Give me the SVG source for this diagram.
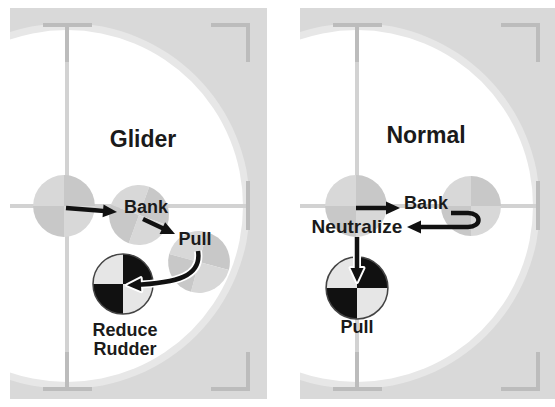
<svg xmlns="http://www.w3.org/2000/svg" width="555" height="407" viewBox="0 0 555 407">
<style>
.panel{fill:#d9d9d9}
.ring{fill:#e7e7e7}
.face{fill:#ffffff}
.ch{stroke:#d2d2d2;stroke-width:4;fill:none}
.tick{stroke:#bcbcbc;stroke-width:4;fill:none}
.title{font-family:"Liberation Sans",Arial,sans-serif;font-weight:bold;font-size:23px;fill:#1a1a1a;text-anchor:middle}
.lbl{font-family:"Liberation Sans",Arial,sans-serif;font-weight:bold;font-size:18px;fill:#1a1a1a;text-anchor:middle}
.arrow{stroke:#111;stroke-width:4.5;fill:none;marker-end:url(#head)}
.halo{stroke:#fff;stroke-width:8;fill:none;marker-end:url(#headHalo)}
.gl{fill:#d8d8d8}.gd{fill:#c8c8c8}
.wl{fill:#e6e6e6}.bk{fill:#111}
</style>
<defs>
<marker id="head" markerUnits="userSpaceOnUse" markerWidth="14" markerHeight="13" refX="8" refY="6.5" orient="auto" overflow="visible">
<path d="M0,0 L14,6.5 L0,13 z" fill="#111"/>
</marker>
<marker id="headHalo" markerUnits="userSpaceOnUse" markerWidth="14" markerHeight="13" refX="8" refY="6.5" orient="auto" overflow="visible">
<path d="M0,0 L14,6.5 L0,13 z" fill="#fff" stroke="#fff" stroke-width="4" stroke-linejoin="round"/>
</marker>
<clipPath id="clipL"><rect x="10" y="8" width="257" height="391"/></clipPath>
<clipPath id="clipR"><rect x="300" y="8" width="257" height="391"/></clipPath>
<g id="gyroGray">
<path class="gl" d="M0,0 V-30 A30,30 0 0 0 -30,0 Z"/>
<path class="gd" d="M0,0 V-30 A30,30 0 0 1 30,0 Z"/>
<path class="gl" d="M0,0 H30 A30,30 0 0 1 0,30 Z"/>
<path class="gd" d="M0,0 V30 A30,30 0 0 1 -30,0 Z"/>
</g>
<g id="gyroBW">
<path class="wl" d="M0,0 V-30 A30,30 0 0 0 -30,0 Z"/>
<path class="bk" d="M0,0 V-30 A30,30 0 0 1 30,0 Z"/>
<path class="wl" d="M0,0 H30 A30,30 0 0 1 0,30 Z"/>
<path class="bk" d="M0,0 V30 A30,30 0 0 1 -30,0 Z"/>
<circle r="30" fill="none" stroke="#444" stroke-width="1.5"/>
</g>
<g id="backdrop">
<rect class="panel" x="10" y="8" width="257" height="391"/>
<g clip-path="url(#clipL)">
<circle class="ring" cx="67" cy="206" r="183"/>
<circle class="face" cx="67" cy="206" r="176"/>
</g>
<line class="ch" x1="67" y1="25" x2="67" y2="389"/>
<line class="ch" x1="10" y1="206" x2="248" y2="206"/>
<path class="tick" d="M43,25 H92 M67,25 V62 M43,389 H92 M67,352 V389 M211,25 H248 V62 M211,389 H248 V352 M248,181 V230"/>
</g>
</defs>

<g id="panel-glider">
<use href="#backdrop"/>
<text class="title" x="143" y="147">Glider</text>
</g>
<g id="panel-normal">
<g clip-path="url(#clipR)"><use href="#backdrop" transform="translate(290,0)"/></g>
<text class="title" x="426" y="143">Normal</text>
</g>

<g id="glider-start"><use href="#gyroGray" transform="translate(64,206) scale(1.03)"/></g>
<g id="glider-bank"><use href="#gyroGray" transform="translate(139,215) rotate(20)"/><text class="lbl" x="146" y="213">Bank</text></g>
<g id="glider-pull"><use href="#gyroGray" transform="translate(199,262) rotate(15) scale(1.03)"/><text class="lbl" x="195" y="245">Pull</text></g>
<g id="glider-reduce"><use href="#gyroBW" transform="translate(123,284)"/><text class="lbl" x="125" y="336">Reduce</text><text class="lbl" x="125" y="355">Rudder</text></g>

<g id="normal-start"><use href="#gyroGray" transform="translate(356,206) scale(1.03)"/></g>
<g id="normal-bank"><use href="#gyroGray" transform="translate(471,206)"/><text class="lbl" x="426" y="209">Bank</text></g>
<g id="normal-neutralize"><text class="lbl" x="357" y="233" style="font-size:19px">Neutralize</text></g>
<g id="normal-pull"><use href="#gyroBW" transform="translate(357,288) scale(1.03)"/><text class="lbl" x="357" y="333">Pull</text></g>

<g id="connectors">
<path class="arrow" d="M66,208 L111,211.5"/>
<path class="arrow" d="M143,219 L169.6,231.5"/>
<path class="halo" d="M198,251 C202,276 178,283 133,285"/>
<path class="arrow" d="M198,251 C202,276 178,283 133,285"/>
<path class="arrow" d="M356,208 L394,208"/>
<path class="arrow" d="M451,213 H468 C482,213 482,227 468,227 H413"/>
<path class="halo" d="M357,237 V276"/>
<path class="arrow" d="M357,237 V276"/>
</g>
</svg>
